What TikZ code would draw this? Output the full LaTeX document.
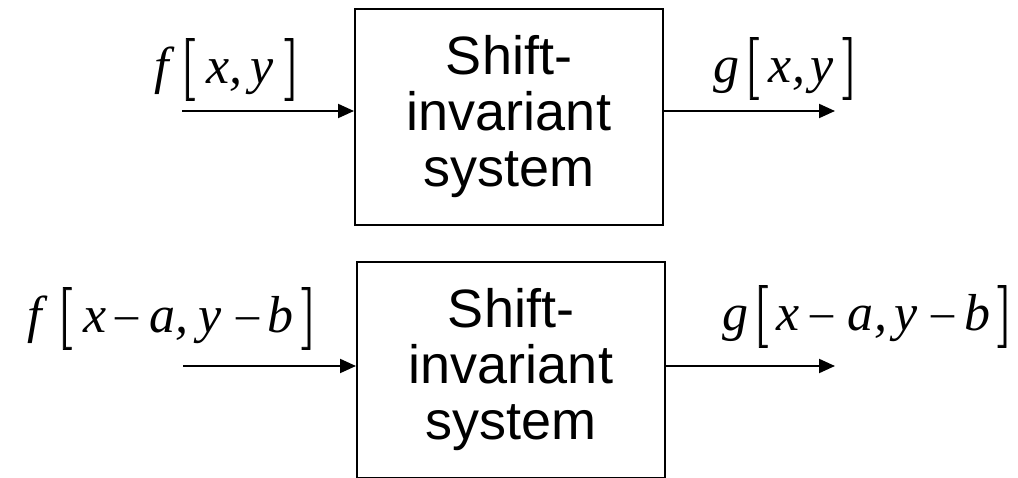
\documentclass[tikz,border=0pt]{standalone}
\usepackage{fontspec}
\setmainfont{Liberation Serif}
\setsansfont{Liberation Sans}
\newfontfamily\brkfont[FakeBold=1.2]{Latin Modern Roman}
\usetikzlibrary{arrows.meta}
% glyph placed with its origin at #1 pt from the start of the label
\newcommand{\gl}[2]{\makebox[0pt][l]{\hspace*{#1pt}#2}}
\newcommand{\LB}{\raisebox{-1pt}{\brkfont\upshape\fontsize{62}{62}\selectfont[}}
\newcommand{\RB}{\raisebox{-1pt}{\brkfont\upshape\fontsize{62}{62}\selectfont]}}
\newcommand{\mmin}{\raisebox{3.8pt}{\upshape\fontsize{46}{46}\selectfont –}}
\begin{document}
\begin{tikzpicture}[x=1pt,y=1pt,
  sysbox/.style={draw,line width=2pt,minimum width=308pt,minimum height=216pt,
    inner sep=0pt,align=center,font=\sffamily\fontsize{54}{56}\selectfont},
  sig/.style={anchor=base west,inner sep=0pt,font=\fontsize{52}{52}\selectfont\itshape},
  flow/.style={line width=2pt,-{Triangle[length=16pt,width=14pt]}}]
\useasboundingbox (0,0) rectangle (1018,477);
\begin{scope}
\clip (0,0) rectangle (1018,477);
% top row
\node[sysbox] (sys1) at (509,360) {Shift-\\invariant\\system};
\coordinate (in1) at (182,366);
\coordinate (out1) at (835,366);
\node[sig] (f1) at (147,393) {\gl{7.6}{f}\gl{32.5}{\LB}\gl{59.5}{x}\gl{82}{,}\gl{103}{y}\gl{137}{\RB}\hspace*{151pt}};
\node[sig] (g1) at (713,394) {\gl{0}{g}\gl{30.5}{\LB}\gl{55.5}{x}\gl{79}{,}\gl{97}{y}\gl{129}{\RB}\hspace*{142pt}};
\draw[flow] (in1) -- (sys1.west |- in1);
\draw[flow] (sys1.east |- out1) -- (out1);
% bottom row
\node[sysbox] (sys2) at (511,107) {Shift-\\invariant\\system};
\coordinate (in2) at (183,111);
\coordinate (out2) at (835,111);
\node[sig] (f2) at (20,144) {\gl{7.6}{f}\gl{36.5}{\LB}\gl{63}{x}\gl{95}{\mmin}\gl{129}{a}\gl{155}{,}\gl{178}{y}\gl{216}{\mmin}\gl{247}{b}\gl{281}{\RB}\hspace*{293pt}};
\node[sig] (g2) at (722,146) {\gl{0}{g}\gl{30.5}{\LB}\gl{54.5}{x}\gl{88}{\mmin}\gl{125}{a}\gl{152}{,}\gl{172}{y}\gl{209}{\mmin}\gl{242}{b}\gl{275}{\RB}\hspace*{290pt}};
\draw[flow] (in2) -- (sys2.west |- in2);
\draw[flow] (sys2.east |- out2) -- (out2);
\end{scope}
\end{tikzpicture}
\end{document}
